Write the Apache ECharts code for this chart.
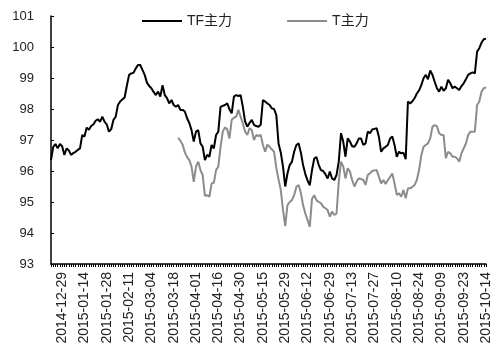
<!DOCTYPE html>
<html>
<head>
<meta charset="utf-8">
<script src="https://cdn.jsdelivr.net/npm/echarts@6/dist/echarts.min.js"></script>
<style>
html,body{margin:0;padding:0;background:#fff;}
#chart{width:500px;height:360px;}
</style>
</head>
<body>
<div id="chart"></div>
<script>
// Trading days per month (category axis)
const tradingDays = [
  ['2014-12', [22,23,24,25,26,29,30,31]],
  ['2015-01', [5,6,7,8,9,12,13,14,15,16,19,20,21,22,23,26,27,28,29,30]],
  ['2015-02', [2,3,4,5,6,9,10,11,12,13,16,17,25,26,27]],
  ['2015-03', [2,3,4,5,6,9,10,11,12,13,16,17,18,19,20,23,24,25,26,27,30,31]],
  ['2015-04', [1,2,3,7,8,9,10,13,14,15,16,17,20,21,22,23,24,27,28,29,30]],
  ['2015-05', [4,5,6,7,8,11,12,13,14,15,18,19,20,21,22,25,26,27,28,29]],
  ['2015-06', [1,2,3,4,5,8,9,10,11,12,15,16,17,18,19,23,24,25,26,29,30]],
  ['2015-07', [1,2,3,6,7,8,9,10,13,14,15,16,17,20,21,22,23,24,27,28,29,30,31]],
  ['2015-08', [3,4,5,6,7,10,11,12,13,14,17,18,19,20,21,24,25,26,27,28,31]],
  ['2015-09', [1,2,7,8,9,10,11,14,15,16,17,18,21,22,23,24,25,28,29,30]],
  ['2015-10', [8,9,12,13,14]]
];

const tickLabels = ['2014-12-29','2015-01-14','2015-01-28','2015-02-11','2015-03-04',
  '2015-03-18','2015-04-01','2015-04-16','2015-04-30','2015-05-15','2015-05-29',
  '2015-06-12','2015-06-29','2015-07-13','2015-07-27','2015-08-10','2015-08-24',
  '2015-09-09','2015-09-23','2015-10-14'];

const tfValues = [
  96.35, 96.78, 96.87, 96.73, 96.87, 96.80, 96.52, 96.73, 96.66, 96.52,
  96.58, 96.62, 96.68, 96.73, 97.16, 97.11, 97.40, 97.33, 97.45, 97.50,
  97.62, 97.67, 97.59, 97.75, 97.59, 97.50, 97.27, 97.35, 97.65, 97.75,
  98.13, 98.24, 98.31, 98.37, 98.75, 99.10, 99.15, 99.17, 99.31, 99.42,
  99.42, 99.26, 99.10, 98.85, 98.74, 98.67, 98.55, 98.45, 98.56, 98.40,
  98.77, 98.45, 98.35, 98.18, 98.29, 98.13, 98.07, 98.13, 97.97, 97.97,
  97.92, 97.70, 97.55, 97.32, 96.95, 97.27, 97.32, 96.89, 96.78, 96.35,
  96.52, 96.46, 96.84, 96.73, 97.16, 97.27, 98.07, 98.10, 98.13, 98.18,
  97.99, 97.86, 98.40, 98.45, 98.42, 98.45, 98.07, 97.60, 97.43, 97.55,
  97.65, 97.49, 97.45, 97.43, 97.49, 98.29, 98.24, 98.18, 98.13, 98.02,
  98.00, 97.80, 96.89, 96.60, 96.14, 95.50, 95.92, 96.19, 96.30, 96.62,
  96.84, 96.89, 96.60, 96.19, 95.90, 95.70, 95.54, 96.03, 96.40, 96.45,
  96.20, 96.03, 96.00, 95.90, 95.76, 95.98, 95.76, 95.71, 95.87, 96.30,
  97.22, 96.95, 96.46, 97.05, 96.95, 96.80, 96.78, 96.89, 97.05, 97.05,
  96.84, 96.89, 97.27, 97.22, 97.34, 97.36, 97.38, 97.10, 96.62, 96.73,
  96.78, 96.84, 97.05, 97.11, 96.84, 96.46, 96.62, 96.57, 96.59, 96.38,
  98.24, 98.18, 98.25, 98.35, 98.50, 98.60, 98.77, 98.99, 99.10, 98.96,
  99.24, 99.10, 98.88, 98.67, 98.56, 98.72, 98.59, 98.67, 98.94, 98.83,
  98.67, 98.72, 98.67, 98.61, 98.74, 98.83, 98.96, 99.10, 99.15, 99.18,
  99.15, 99.85, 99.96, 100.14, 100.25, 100.27
];

// T contract starts trading on 2015-03-20
const tStartDate = '2015-03-20';
const tValues = [
  97.07, 96.98, 96.85,
  96.60, 96.45, 96.35, 96.14, 95.65, 96.14, 96.30, 96.03, 95.87, 95.20,
  95.22, 95.17, 95.60, 95.62, 96.03, 96.14, 96.78, 97.27, 97.40, 97.35,
  97.05, 97.65, 97.72, 97.75, 97.97, 97.75, 97.54, 97.27, 97.16, 97.38,
  97.32, 97.00, 97.16, 97.13, 97.16, 96.84, 96.62, 96.85, 96.78, 96.70,
  96.62, 96.10, 95.73, 95.39, 94.75, 94.22, 94.90, 95.00, 95.06, 95.22,
  95.49, 95.55, 95.30, 94.90, 94.63, 94.42, 94.20, 95.10, 95.22, 95.06,
  95.00, 94.96, 94.85, 94.80, 94.74, 94.53, 94.69, 94.58, 94.63, 95.66,
  96.30, 96.15, 95.76, 96.09, 95.98, 95.71, 95.50, 95.66, 95.76, 95.74,
  95.71, 95.55, 95.87, 95.93, 96.00, 96.02, 96.03, 95.81, 95.60, 95.71,
  95.58, 95.71, 95.81, 95.92, 95.60, 95.23, 95.28, 95.17, 95.39, 95.12,
  95.44, 95.44, 95.49, 95.55, 95.71, 96.03, 96.51, 96.78, 96.84, 96.89,
  97.05, 97.43, 97.48, 97.45, 97.22, 97.16, 97.16, 96.41, 96.62, 96.57,
  96.46, 96.46, 96.41, 96.30, 96.57, 96.73, 96.89, 97.16, 97.27, 97.27,
  97.27, 98.13, 98.24, 98.56, 98.67, 98.70
];

const dates = [];
tradingDays.forEach(([ym, days]) => days.forEach(d => dates.push(ym + '-' + String(d).padStart(2, '0'))));
const tStart = dates.indexOf(tStartDate);
const tSeries = dates.map((_, i) => (i < tStart ? null : tValues[i - tStart]));

const FONT = '"Liberation Sans", Arial, "Noto Sans CJK SC", sans-serif';
const chart = echarts.init(document.getElementById('chart'), null, {renderer: 'canvas'});
chart.setOption({
  animation: false,
  backgroundColor: '#ffffff',
  textStyle: {fontFamily: FONT},
  legend: {
    left: 137, top: 9,
    itemWidth: 40, itemHeight: 2, itemGap: 55,
    icon: 'rect',
    textStyle: {fontSize: 14, color: '#222', fontFamily: FONT},
    data: ['TF主力', 'T主力']
  },
  grid: {left: 51, right: 14, top: 16, bottom: 96, containLabel: false},
  xAxis: {
    type: 'category',
    data: dates,
    boundaryGap: false,
    axisLine: {show: true, lineStyle: {color: '#000', width: 1.5}},
    axisTick: {show: true, interval: 0, length: 3, lineStyle: {color: '#000', width: 1}},
    axisLabel: {
      interval: (idx, val) => tickLabels.includes(val),
      rotate: 90, margin: 8, fontSize: 14, color: '#222', fontFamily: FONT
    },
    splitLine: {show: false}
  },
  yAxis: {
    type: 'value', min: 93, max: 101, interval: 1,
    axisLine: {show: true, lineStyle: {color: '#000', width: 1.5}},
    axisTick: {show: true, inside: true, length: 3, lineStyle: {color: '#000'}},
    axisLabel: {fontSize: 13, margin: 17, color: '#222', fontFamily: FONT},
    splitLine: {show: false}
  },
  series: [
    {name: 'TF主力', type: 'line', data: tfValues, showSymbol: false, symbol: 'none',
     lineStyle: {color: '#000', width: 2}, itemStyle: {color: '#000'}},
    {name: 'T主力', type: 'line', data: tSeries, showSymbol: false, symbol: 'none',
     lineStyle: {color: '#8c8c8c', width: 2}, itemStyle: {color: '#8c8c8c'}}
  ]
});
</script>
</body>
</html>
